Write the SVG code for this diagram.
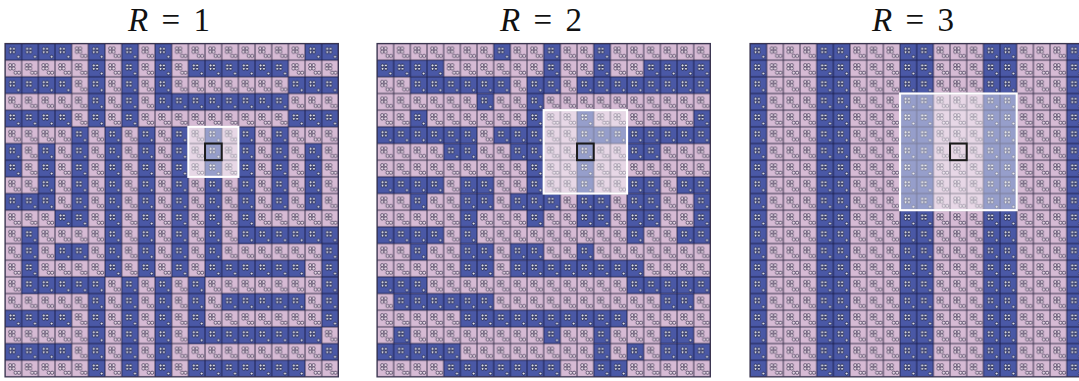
<svg xmlns="http://www.w3.org/2000/svg" width="1079" height="381" viewBox="0 0 1079 381">
<style>
.t{font-family:"Liberation Serif","Times New Roman",serif;font-size:33px;fill:#111;word-spacing:5px}
.pb{fill:url(#pb)}
.bg{fill:url(#pp)}
.frame{fill:none;stroke:#3a3550;stroke-width:.07}
.hl{fill:#fff;fill-opacity:.42;stroke:#fff;stroke-width:.13}
.ctr{fill:none;stroke:#1a1a1a;stroke-width:.12}
</style>
<defs>
<pattern id="pp" patternUnits="userSpaceOnUse" width="1" height="1">
<rect width="1" height="1" fill="#d6bad4" stroke="#3e3650" stroke-width="0.06"/>
<g fill="#ecdfea" stroke="#3d3350" stroke-width="0.045">
<circle cx="0.31" cy="0.3" r="0.095"/><circle cx="0.51" cy="0.3" r="0.095"/>
<circle cx="0.31" cy="0.5" r="0.095"/><circle cx="0.51" cy="0.5" r="0.095"/>
<circle cx="0.63" cy="0.75" r="0.095"/><circle cx="0.83" cy="0.75" r="0.095"/>
</g>
</pattern>
<pattern id="pb" patternUnits="userSpaceOnUse" width="1" height="1">
<rect width="1" height="1" fill="#4a58a6" stroke="#1c2150" stroke-width="0.06"/>
<g fill="#eef0fa" stroke="#0e1235" stroke-width="0.045">
<circle cx="0.33" cy="0.32" r="0.085"/><circle cx="0.53" cy="0.32" r="0.085"/>
<circle cx="0.33" cy="0.52" r="0.085"/><circle cx="0.53" cy="0.52" r="0.085"/>
<circle cx="0.8" cy="0.8" r="0.085"/>
</g>
</pattern>
</defs>

<g id="titles">
<text class="t" x="169" y="31" text-anchor="middle"><tspan font-style="italic">R</tspan> = 1</text>
<text class="t" x="541" y="31" text-anchor="middle"><tspan font-style="italic">R</tspan> = 2</text>
<text class="t" x="913" y="31" text-anchor="middle"><tspan font-style="italic">R</tspan> = 3</text>
</g>

<g id="panel1" transform="translate(5,43.5) scale(16.67)">
<rect class="bg" width="20" height="20"/>
<g class="pb">
<rect x="0" y="0" width="4" height="1"/><rect x="0" y="2" width="4" height="1"/><rect x="0" y="4" width="4" height="1"/>
<rect x="5" y="0" width="1" height="5"/><rect x="7" y="0" width="1" height="5"/><rect x="9" y="0" width="1" height="4"/>
<rect x="18" y="0" width="2" height="1"/><rect x="11" y="1" width="6" height="1"/><rect x="17" y="2" width="3" height="1"/>
<rect x="9" y="3" width="8" height="1"/><rect x="17" y="4" width="3" height="1"/>
<rect x="4" y="5" width="1" height="5"/><rect x="6" y="5" width="1" height="5"/><rect x="8" y="5" width="1" height="5"/>
<rect x="10" y="5" width="1" height="5"/><rect x="12" y="5" width="1" height="5"/><rect x="14" y="5" width="1" height="5"/>
<rect x="16" y="5" width="1" height="5"/><rect x="18" y="6" width="1" height="4"/><rect x="2" y="6" width="1" height="4"/>
<rect x="0" y="6" width="1" height="2"/><rect x="0" y="9" width="3" height="1"/>
<rect x="6" y="10" width="1" height="4"/><rect x="8" y="10" width="1" height="4"/><rect x="10" y="10" width="1" height="4"/>
<rect x="12" y="10" width="1" height="4"/><rect x="14" y="10" width="1" height="2"/><rect x="3" y="10" width="2" height="1"/>
<rect x="14" y="11" width="6" height="1"/><rect x="1" y="11" width="1" height="4"/><rect x="3" y="12" width="2" height="1"/>
<rect x="19" y="11" width="1" height="6"/><rect x="12" y="13" width="6" height="1"/><rect x="1" y="14" width="5" height="1"/>
<rect x="5" y="14" width="1" height="6"/><rect x="7" y="14" width="1" height="6"/><rect x="9" y="14" width="1" height="6"/>
<rect x="11" y="14" width="1" height="4"/><rect x="13" y="15" width="5" height="1"/><rect x="0" y="16" width="4" height="1"/>
<rect x="11" y="17" width="8" height="1"/><rect x="0" y="18" width="4" height="1"/><rect x="19" y="18" width="1" height="1"/>
<rect x="11" y="19" width="7" height="1"/>
</g>
<rect class="frame" width="20" height="20"/>
<rect class="hl" x="11" y="5" width="3" height="3"/>
<rect class="ctr" x="12" y="6" width="1" height="1"/>
</g>

<g id="panel2" transform="translate(377,43.5) scale(16.67)">
<rect class="bg" width="20" height="20"/>
<g class="pb">
<rect x="7" y="0" width="1" height="1"/><rect x="10" y="0" width="1" height="3"/><rect x="13" y="0" width="1" height="3"/>
<rect x="0" y="1" width="4" height="1"/><rect x="16" y="1" width="4" height="1"/>
<rect x="2" y="2" width="6" height="1"/><rect x="9" y="2" width="2" height="1"/><rect x="12" y="2" width="8" height="1"/>
<rect x="6" y="3" width="1" height="1"/><rect x="9" y="2" width="1" height="9"/><rect x="12" y="4" width="1" height="7"/>
<rect x="2" y="4" width="1" height="1"/><rect x="19" y="4" width="1" height="1"/>
<rect x="0" y="5" width="6" height="1"/><rect x="7" y="5" width="3" height="1"/><rect x="12" y="5" width="8" height="1"/>
<rect x="4" y="6" width="2" height="1"/><rect x="8" y="6" width="2" height="1"/><rect x="15" y="6" width="2" height="1"/>
<rect x="0" y="8" width="4" height="1"/><rect x="5" y="8" width="2" height="1"/><rect x="15" y="8" width="2" height="1"/><rect x="18" y="8" width="2" height="1"/>
<rect x="2" y="9" width="1" height="1"/><rect x="5" y="9" width="2" height="1"/><rect x="8" y="9" width="3" height="1"/>
<rect x="12" y="9" width="2" height="1"/><rect x="15" y="9" width="2" height="1"/><rect x="19" y="9" width="1" height="1"/>
<rect x="5" y="10" width="1" height="1"/><rect x="12" y="10" width="2" height="1"/><rect x="15" y="10" width="2" height="1"/><rect x="19" y="10" width="1" height="1"/>
<rect x="0" y="11" width="4" height="1"/><rect x="5" y="11" width="1" height="1"/><rect x="15" y="11" width="1" height="1"/><rect x="18" y="11" width="2" height="1"/>
<rect x="2" y="12" width="1" height="1"/><rect x="5" y="12" width="2" height="1"/><rect x="8" y="12" width="2" height="1"/><rect x="12" y="12" width="1" height="1"/>
<rect x="5" y="13" width="2" height="1"/><rect x="8" y="13" width="8" height="1"/>
<rect x="0" y="14" width="3" height="1"/><rect x="15" y="14" width="5" height="1"/>
<rect x="1" y="15" width="6" height="1"/><rect x="17" y="15" width="2" height="1"/>
<rect x="5" y="16" width="10" height="1"/>
<rect x="1" y="17" width="1" height="1"/><rect x="10" y="17" width="1" height="1"/><rect x="13" y="17" width="1" height="1"/><rect x="17" y="17" width="2" height="1"/>
<rect x="0" y="18" width="5" height="1"/><rect x="13" y="18" width="1" height="1"/><rect x="15" y="18" width="1" height="1"/><rect x="17" y="18" width="3" height="1"/>
<rect x="4" y="19" width="7" height="1"/><rect x="13" y="19" width="2" height="1"/>
</g>
<rect class="frame" width="20" height="20"/>
<rect class="hl" x="10" y="4" width="5" height="5"/>
<rect class="ctr" x="12" y="6" width="1" height="1"/>
</g>

<g id="panel3" transform="translate(750,43.5) scale(16.67)">
<rect class="bg" width="20" height="20"/>
<g class="pb">
<rect x="0" y="0" width="1" height="20"/><rect x="4" y="0" width="2" height="20"/><rect x="9" y="0" width="2" height="20"/>
<rect x="14" y="0" width="2" height="20"/><rect x="19" y="0" width="1" height="20"/>
</g>
<rect class="frame" width="20" height="20"/>
<rect class="hl" x="9" y="3" width="7" height="7"/>
<rect class="ctr" x="12" y="6" width="1" height="1"/>
</g>
</svg>
